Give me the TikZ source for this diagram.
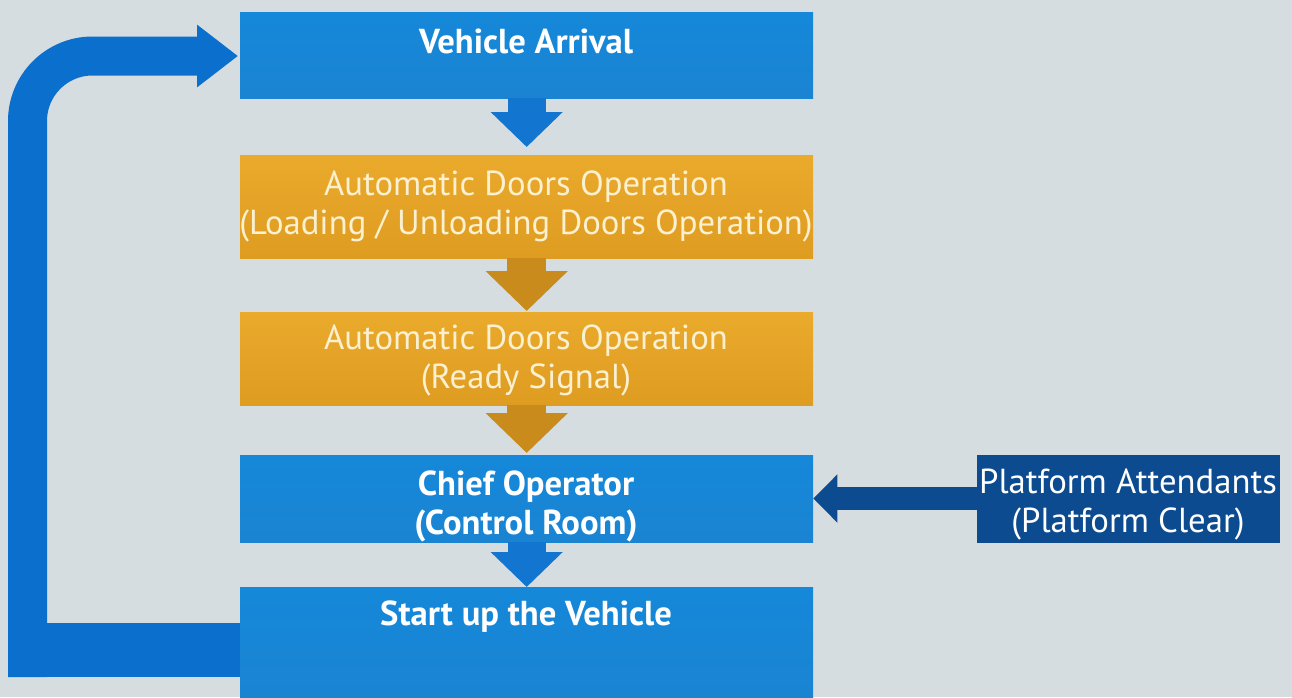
\documentclass[tikz,border=0pt]{standalone}
\usepackage{fontspec}
\setmainfont{PT Sans}
\usetikzlibrary{arrows.meta}
\definecolor{bg}{HTML}{D6DDE1}
\definecolor{boxblue}{HTML}{1588D9}
\definecolor{boxblueB}{HTML}{1A84D2}
\definecolor{goldT}{HTML}{EAAA2C}
\definecolor{goldB}{HTML}{DE9C20}
\definecolor{goldarrow}{HTML}{C98B1B}
\definecolor{arrowblue}{HTML}{1275CF}
\definecolor{loopblue}{HTML}{0B6FCE}
\definecolor{darkblue}{HTML}{0D4B90}
\definecolor{cream}{HTML}{FBF0CF}
\tikzset{
  bluebox/.style={rectangle, inner sep=0pt, top color=boxblue, bottom color=boxblueB, minimum width=573pt},
  goldbox/.style={rectangle, inner sep=0pt, top color=goldT, bottom color=goldB, minimum width=573pt},
  darkbox/.style={rectangle, inner sep=0pt, fill=darkblue},
  lbl/.style={inner sep=0pt, align=center, font=\fontsize{34.7}{39}\selectfont, text=white},
  glbl/.style={lbl, text=cream},
  hlbl/.style={lbl, font=\fontsize{34.6}{39}\selectfont\bfseries},
  bdown/.style={draw=arrowblue, line width=38pt, -{Triangle[width=70pt,length=35pt]}},
  gdown/.style={draw=goldarrow, line width=39pt, -{Triangle[width=80pt,length=40pt]}},
}
\begin{document}
\begin{tikzpicture}[x=1pt,y=-1pt]
\useasboundingbox[fill=bg] (0,0) rectangle (1292,697);
% boxes
\node[bluebox, minimum height=86pt, anchor=north west] (b1) at (240,12) {};
\node[goldbox, minimum height=103pt, anchor=north west] (b2) at (240,155) {};
\node[goldbox, minimum height=93pt, anchor=north west] (b3) at (240,312) {};
\node[bluebox, minimum height=87pt, anchor=north west] (b4) at (240,455) {};
\node[bluebox, minimum height=112pt, anchor=north west] (b5) at (240,587) {};
\node[darkbox, minimum width=303pt, minimum height=88pt, anchor=north west] (pa) at (977,455) {};
% labels
\node[hlbl] (t1) at (526,41) {Vehicle Arrival};
\node[glbl] (t2) at (526,206) {Automatic Doors Operation\\(Loading / Unloading Doors Operation)};
\node[glbl] (t3) at (526,360) {Automatic Doors Operation\\(Ready Signal)};
\node[hlbl] (t4) at (526,506) {Chief Operator\\(Control Room)};
\node[hlbl] (t5) at (526,617) {Start up the Vehicle};
\node[lbl] (t6) at (1128,504) {Platform Attendants\\(Platform Clear)};
% down arrows
\draw[bdown, shorten >=8pt] (b1.south) -- (b2.north);
\draw[gdown, shorten >=1pt] (b2.south) -- (b3.north);
\draw[gdown, shorten >=2pt] (b3.south) -- (b4.north);
\draw[bdown, shorten >=0pt] (b4.south) -- (b5.north);
% platform arrow
\draw[draw=darkblue, line width=23pt, -{Triangle[width=47pt,length=24pt]}] (pa.west |- 0,498.5) -- (b4.east |- 0,498.5);
% loop arrow
\coordinate (lb) at (8,623);
\fill[loopblue] (lb) rectangle (b5.west |- 0,677);
\draw[draw=loopblue, line width=39pt, rounded corners=65pt, -{Triangle[width=60pt,length=41pt]}, shorten >=2pt]
  (27.5,677) -- (27.5,56) -- (b1.west |- 0,56);
\end{tikzpicture}
\end{document}
